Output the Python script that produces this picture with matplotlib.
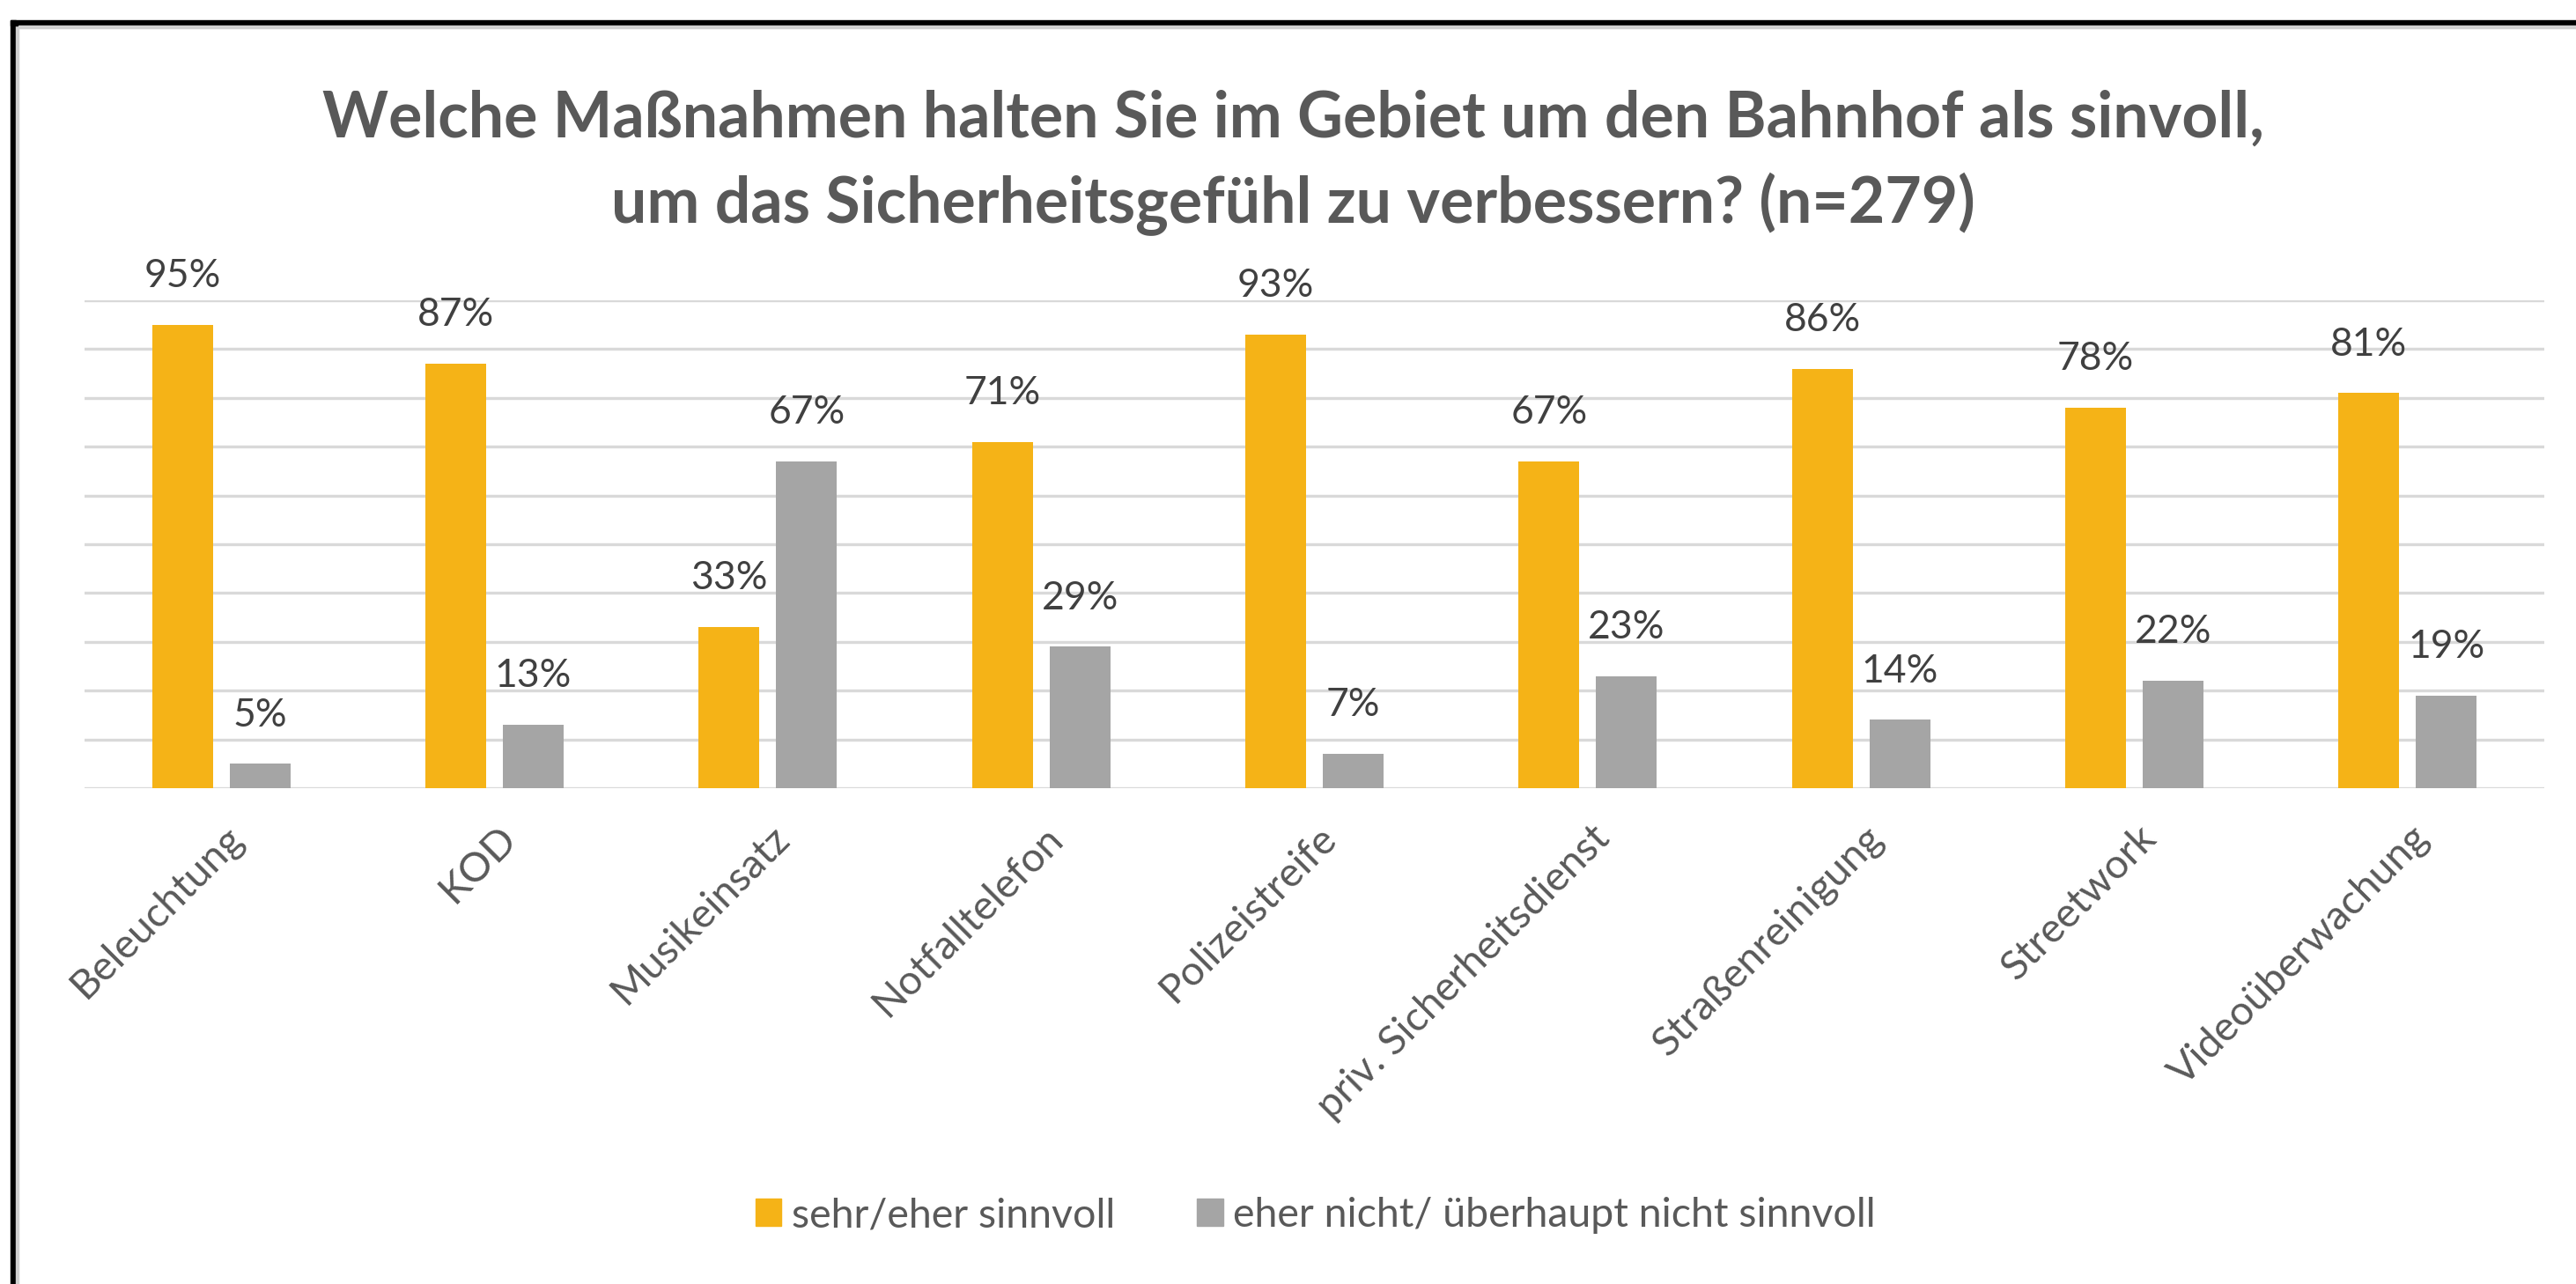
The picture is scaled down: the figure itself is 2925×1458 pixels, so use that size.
import matplotlib
matplotlib.use("Agg")
import matplotlib.pyplot as plt
from matplotlib.patches import Rectangle, Patch
from matplotlib.transforms import ScaledTranslation
import numpy as np

plt.rcParams['font.family'] = ['Lato', 'DejaVu Sans']

# data
categories = ["Beleuchtung", "KOD", "Musikeinsatz", "Notfalltelefon", "Polizeistreife",
              "priv. Sicherheitsdienst", "Straßenreinigung", "Streetwork", "Videoüberwachung"]
sinnvoll = [95, 87, 33, 71, 93, 67, 86, 78, 81]
nicht_sinnvoll = [5, 13, 67, 29, 7, 23, 14, 22, 19]
series_names = ["sehr/eher sinnvoll", "eher nicht/ überhaupt nicht sinnvoll"]
title_lines = ["Welche Maßnahmen halten Sie im Gebiet um den Bahnhof als sinvoll,",
               "um das Sicherheitsgefühl zu verbessern? (n=279)"]

orange = "#F5B317"
gray = "#A5A5A5"
W, H = 2925, 1458

fig = plt.figure(figsize=(W / 100, H / 100), dpi=100)
ax = fig.add_axes([96 / W, (H - 895) / H, (2889 - 96) / W, (895 - 341) / H])

x = np.arange(len(categories))
bw = 0.222
off = 0.142
b1 = ax.bar(x - off, sinnvoll, bw, color=orange, zorder=3)
b2 = ax.bar(x + off, nicht_sinnvoll, bw, color=gray, zorder=3)
for bars, vals in ((b1, sinnvoll), (b2, nicht_sinnvoll)):
    ax.bar_label(bars, labels=[f"{v}%" for v in vals], padding=25,
                 fontsize=32, color="#404040")

ax.set_xlim(-0.5, len(categories) - 0.5)
ax.set_ylim(0, 100)
ax.set_yticks(np.arange(0, 101, 10))
ax.set_yticklabels([])
ax.grid(axis="y", color="#D9D9D9", linewidth=2.4, zorder=0)
ax.tick_params(length=0, pad=36)
for s in ax.spines.values():
    s.set_visible(False)
ax.set_xticks(x, categories, rotation=45, ha="right", rotation_mode="anchor",
              fontsize=33.5, color="#595959")
shift = ScaledTranslation(18 / 100, 0, fig.dpi_scale_trans)
for lab in ax.get_xticklabels():
    lab.set_va("center")
    lab.set_transform(lab.get_transform() + shift)

fig.text(1468 / W, 1 - 156 / H, title_lines[0], ha="center", va="baseline",
         fontsize=51.5, weight="bold", color="#595959")
fig.text(1468 / W, 1 - 253 / H, title_lines[1], ha="center", va="baseline",
         fontsize=51.5, weight="bold", color="#595959")

handles = [Patch(color=orange), Patch(color=gray)]
fig.legend(handles, series_names, loc="center", bbox_to_anchor=(1494 / W, 1 - 1380 / H),
           ncol=2, frameon=False, fontsize=33.5, labelcolor="#595959",
           handlelength=0.63, handleheight=0.66, handletextpad=0.25, columnspacing=2.0)

# outer frame (only left and top edges show in the reference)
fig.add_artist(Rectangle((12 / W, 0), 6 / W, 1 - 23 / H, color="black", transform=fig.transFigure))
fig.add_artist(Rectangle((18 / W, 0), 3 / W, 1 - 29 / H, color="#D0D0D0", transform=fig.transFigure))
fig.add_artist(Rectangle((12 / W, 1 - 29 / H), 1 - 12 / W, 6 / H, color="black", transform=fig.transFigure))
fig.add_artist(Rectangle((21 / W, 1 - 32 / H), 1 - 21 / W, 3 / H, color="#D0D0D0", transform=fig.transFigure))

fig.savefig("out.png", dpi=100)
